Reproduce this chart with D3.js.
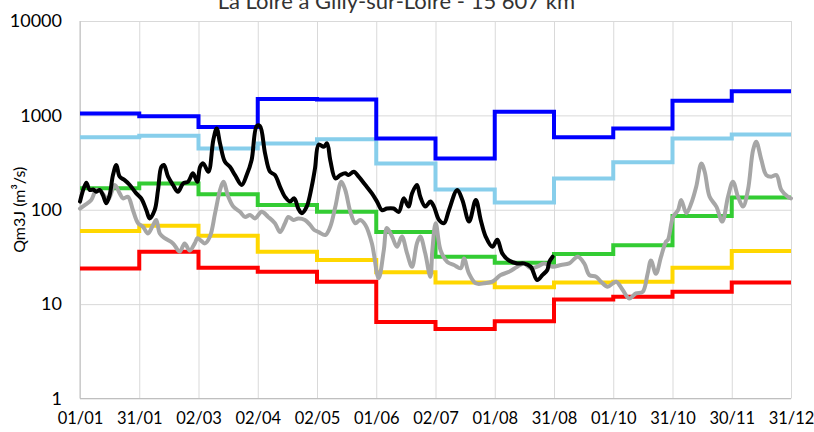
<!DOCTYPE html>
<html>
<head>
<meta charset="utf-8">
<script src="https://cdn.jsdelivr.net/npm/d3@7"></script>
<style>
  body { margin: 0; background: #fff; }
  svg { display: block; font-family: Lato, "Open Sans", sans-serif; }
</style>
</head>
<body>
<svg id="chart" width="814" height="432"></svg>
<script>
// monthly reference flows (m3/s), one value per 30-day step
const stepDays = [0, 30, 60, 90, 120, 150, 180, 210, 240, 270, 300, 330];
const blueSteps = [1050, 980, 755, 1490, 1470, 570, 350, 1090, 585, 728, 1430, 1800];
const skySteps = [585, 608, 447, 505, 557, 310, 164, 119, 215, 318, 570, 629];
const greenSteps = [169, 190, 146, 112, 95, 58, 31.8, 27.5, 34, 42, 86, 135];
const yellowSteps = [59.5, 67.6, 53, 35.9, 29.3, 21.7, 16.9, 15.1, 17, 17.3, 24.3, 36.5];
const redSteps = [23.9, 35.9, 24.3, 22, 17.3, 6.45, 5.45, 6.6, 11.2, 12, 13.5, 17];

// current year daily flow (day of year, value)
const blackDays = [0, 3.2, 4.9, 6.6, 8.3, 10, 11.6, 13.3, 15, 16.7, 18.4, 20.1, 22.6, 25.2, 28.5, 31, 33.6, 35.3, 37.8, 39.5,
  41.2, 42.5, 44.6, 47.1, 49.6, 52.2, 54.7, 57.2, 59.4, 60.8, 62.4, 65, 67.5, 69.2, 70.9, 73.4, 75.9, 78.5, 81.9, 84.4,
  86.9, 89.5, 91.1, 93.7, 96.2, 98.7, 101.3, 103.8, 106.3, 108.5, 110.5, 112.3, 114.8, 117.3, 119, 120.9, 123.4, 125.1, 126.7, 129.3,
  131.8, 134.3, 136, 138.6, 141.1, 144.5, 147.8, 150.4, 152.9, 155.4, 158.8, 161.4, 163.9, 166.4, 168.1, 170.6, 172.3, 174.8, 177.4, 179.2,
  181.8, 184.3, 186.8, 191, 193.6, 197, 200.4, 202.9, 205.4, 208.8, 211.3, 213.8, 217.2, 221.4, 224.8, 228.2, 231.5, 234.1, 236.6, 237.6, 239.3];
const blackFlow = [122, 193, 162, 164, 155, 162, 143, 117, 143, 233, 298, 224, 206, 183, 149, 132, 99, 81, 99, 162,
  285, 298, 224, 183, 155, 190, 198, 243, 198, 285, 310, 253, 548, 728, 505, 322, 285, 233, 183, 233,
  337, 770, 770, 396, 253, 233, 175, 137, 122, 132, 103, 92, 108, 175, 275, 492, 465, 505, 337, 215,
  233, 243, 233, 253, 224, 183, 149, 122, 99, 103, 103, 95, 132, 108, 149, 183, 137, 108, 122, 108,
  78, 72, 99, 162, 127, 75, 127, 78, 52, 40.5, 48, 34.5, 29, 27, 27, 24.9, 18, 20.3, 23, 28, 31.8];

// another year, full year
const grayDays = [0, 2.4, 5.7, 8.3, 10.8, 14.2, 17.6, 20.1, 21.8, 24.3, 26.8, 29.4, 31.9, 34.4, 37, 38.6, 40.4, 42.9, 47.1, 50.5,
  53, 55.5, 58.1, 59.4, 60.8, 63.3, 65.8, 68.4, 70.9, 72.6, 75.1, 77.6, 81, 83.5, 86.1, 88.6, 92, 95.3, 98.7, 101.3,
  103.8, 105.5, 108, 110.5, 113.9, 116.5, 118.6, 120.9, 124.2, 126.7, 129.3, 132.3, 134.3, 136.9, 139.4, 141.9, 144.5, 147.8, 151.2, 153.8,
  155.4, 158, 160.5, 163, 165.6, 168.1, 170.6, 172.3, 174.8, 177.4, 178.4, 180.1, 182.6, 186, 189.4, 192.8, 194.4, 197, 200.4, 204.6,
  208.8, 213, 217.2, 221.4, 224.8, 228.2, 231.5, 234.9, 239.3, 243.5, 247.7, 252, 255.3, 257.9, 261.3, 263.8, 267.2, 271.4, 274.8, 278.1,
  281.5, 284.9, 287.4, 289.1, 291.6, 294.2, 296.7, 297.7, 300.3, 302.8, 304.4, 307, 309.5, 312, 314.6, 316.3, 318.8, 322.2, 325.2, 328.1,
  330.6, 333.2, 335.7, 338.2, 340.8, 342.4, 345, 347.5, 350, 352.6, 355.1, 358.5, 360];
const grayFlow = [103, 112, 127, 162, 155, 127, 183, 149, 132, 137, 99, 72, 66, 56, 69, 78, 56, 50, 44, 36,
  44, 37, 44, 50, 48, 44, 52, 92, 162, 198, 137, 108, 95, 84, 88, 81, 95, 84, 72, 58,
  72, 84, 78, 81, 78, 69, 61, 58, 54, 66, 108, 198, 162, 95, 72, 78, 69, 44, 18.8, 37,
  64, 52, 40.5, 52, 34.5, 24.9, 44, 52, 34.5, 19.5, 37, 72, 37, 28, 26, 24, 30.5, 21, 16.6, 16.6,
  17.3, 20.3, 22, 24.9, 27, 24, 24.9, 27, 24.9, 26, 27, 31.8, 27, 20.3, 19.5, 17.3, 15.3, 17.3, 14.1, 11.5,
  13, 13.5, 21, 29, 21, 31.8, 46, 48, 84, 99, 127, 92, 117, 175, 310, 253, 137, 108, 75, 137,
  198, 137, 108, 162, 429, 525, 337, 233, 224, 233, 162, 137, 132];

const tickDays = [0, 30, 60, 90, 120, 150, 180, 210, 240, 270, 300, 330, 360];
const tickLabels = ['01/01', '31/01', '02/03', '02/04', '02/05', '01/06', '02/07', '01/08', '31/08', '01/10', '31/10', '30/11', '31/12'];
const yTicks = [1, 10, 100, 1000, 10000];

const svg = d3.select('#chart'),
  margin = { top: 21, right: 23, bottom: 33.5, left: 80 },
  width = 814 - margin.left - margin.right,
  height = 432 - margin.top - margin.bottom,
  g = svg.append('g').attr('transform', 'translate(' + margin.left + ',' + margin.top + ')');

const x = d3.scaleLinear().domain([0, 360]).range([0, width]);
const y = d3.scaleLog().domain([1, 10000]).range([height, 0]);

// gridlines
g.append('g')
  .call(d3.axisLeft(y).tickValues(yTicks).tickSize(-width).tickFormat(''))
  .call(s => s.select('.domain').remove())
  .selectAll('line').attr('stroke', '#d9d9d9');
g.append('g')
  .attr('transform', 'translate(0,' + height + ')')
  .call(d3.axisBottom(x).tickValues(tickDays).tickSize(-height).tickFormat(''))
  .call(s => s.select('.domain').remove())
  .selectAll('line').attr('stroke', '#d9d9d9');

// axis lines
g.append('line').attr('x1', 0).attr('x2', 0).attr('y1', 0).attr('y2', height).attr('stroke', '#bfbfbf');
g.append('line').attr('x1', 0).attr('x2', width).attr('y1', height).attr('y2', height).attr('stroke', '#bfbfbf');

// tick labels
g.append('g')
  .call(d3.axisLeft(y).tickValues(yTicks).tickSize(0).tickPadding(18).tickFormat(d3.format('d')))
  .call(s => s.select('.domain').remove())
  .selectAll('text')
  .attr('font-size', 18)
  .attr('font-family', 'Lato, sans-serif')
  .attr('fill', '#000');
g.append('g')
  .attr('transform', 'translate(0,' + height + ')')
  .call(d3.axisBottom(x).tickValues(tickDays).tickSize(0).tickPadding(14).tickFormat((d, i) => tickLabels[i]))
  .call(s => s.select('.domain').remove())
  .selectAll('text')
  .attr('font-size', 16.5)
  .attr('font-family', 'Lato, sans-serif')
  .attr('fill', '#000');

// step series
const stepLine = d3.line()
  .x(d => x(d[0]))
  .y(d => y(d[1]))
  .curve(d3.curveStepAfter);

const steps = [
  { values: redSteps, color: '#ff0000' },
  { values: yellowSteps, color: '#ffd700' },
  { values: greenSteps, color: '#33cc33' },
  { values: skySteps, color: '#87ceeb' },
  { values: blueSteps, color: '#0000ff' }
];
steps.forEach(s => {
  const pts = stepDays.map((d, i) => [d, s.values[i]]);
  pts.push([360, s.values[s.values.length - 1]]);
  g.append('path')
    .datum(pts)
    .attr('fill', 'none')
    .attr('stroke', s.color)
    .attr('stroke-width', 4)
    .attr('d', stepLine);
});

// daily flows
const flowLine = d3.line()
  .x(d => x(d[0]))
  .y(d => y(d[1]))
  .curve(d3.curveCatmullRom.alpha(0.5));

g.append('path')
  .datum(grayDays.map((d, i) => [d, grayFlow[i]]))
  .attr('fill', 'none')
  .attr('stroke', '#a6a6a6')
  .attr('stroke-width', 4)
  .attr('stroke-linejoin', 'round')
  .attr('stroke-linecap', 'round')
  .attr('d', flowLine);

g.append('path')
  .datum(blackDays.map((d, i) => [d, blackFlow[i]]))
  .attr('fill', 'none')
  .attr('stroke', '#000')
  .attr('stroke-width', 4)
  .attr('stroke-linejoin', 'round')
  .attr('stroke-linecap', 'round')
  .attr('d', flowLine);

// titles
svg.append('text')
  .attr('x', 400)
  .attr('y', 9)
  .attr('text-anchor', 'middle')
  .attr('font-size', 22)
  .attr('fill', '#333')
  .text('La Loire à Gilly-sur-Loire - 15 607 km²');

svg.append('text')
  .attr('transform', 'translate(25,' + (margin.top + y(100)) + ') rotate(-90)')
  .attr('text-anchor', 'middle')
  .attr('font-size', 16)
  .attr('fill', '#000')
  .text('Qm3J (m³/s)');
</script>
</body>
</html>
